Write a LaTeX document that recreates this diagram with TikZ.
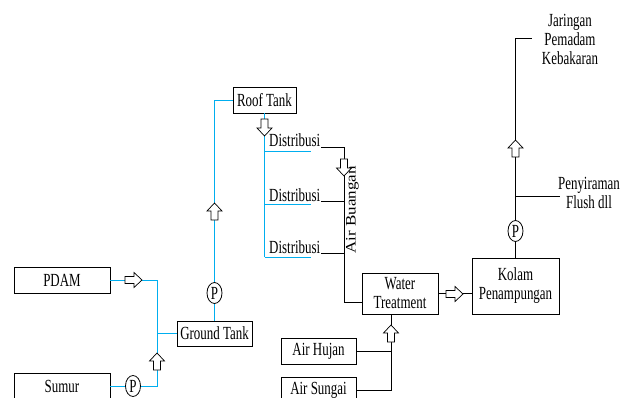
\documentclass[tikz,border=0pt]{standalone}
\usepackage{fontspec}
\setmainfont[FakeStretch=0.7]{Liberation Serif}
\newfontfamily\uprightserif{Liberation Serif}
\usepackage{graphicx}
\usetikzlibrary{shapes.geometric}
\definecolor{pipeblue}{RGB}{0,174,239}

\begin{document}
\begin{tikzpicture}[x=1pt, y=-1pt, font=\fontsize{18.5}{19}\selectfont,
    box/.style={draw, line width=0.8pt, inner sep=2pt, minimum height=26pt},
    pump/.style={draw, ellipse, line width=0.8pt, fill=white, inner sep=0pt,
      minimum width=15pt, minimum height=21pt},
    tag/.style={inner sep=1pt},
    pipe/.style={draw=pipeblue, line width=0.9pt},
    drain/.style={draw, line width=0.8pt},
    flowarrow/.pic={
      \draw[line width=0.7pt, fill=white] (-9,-3.5) -- (0,-3.5) -- (0,-7.5)
        -- (8,0) -- (0,7.5) -- (0,3.5) -- (-9,3.5) -- cycle;
    }]
  \useasboundingbox (0,0) rectangle (623,398);
  \clip (0,0) rectangle (623,398);

  % sources and tanks
  \node[box, minimum width=96pt] (pdam) at (62,280) {PDAM};
  \node[box, minimum width=96pt] (sumur) at (62,386) {Sumur};
  \node[box, minimum width=75pt, minimum height=25pt] (ground) at (214.5,333.5) {Ground Tank};
  \node[box, minimum width=63pt] (roof) at (264.5,100) {Roof Tank};
  \node[box, minimum width=76pt, minimum height=41pt, align=center] (treat) at (400,293.5) {Water\\Treatment};
  \node[box, minimum width=87pt, minimum height=56pt, align=center] (kolam) at (515.5,286) {Kolam\\Penampungan};
  \node[box, minimum width=75pt] (hujan) at (318.5,351) {Air Hujan};
  \node[box, minimum width=75pt] (sungai) at (318.5,390) {Air Sungai};

  % labels
  \foreach \i/\y in {1/147, 2/201, 3/253}
    \node[tag, anchor=base west] (dist\i) at (268,\y) {Distribusi};
  \node[tag, rotate=90] (buangan) at (352.5,210) {\fontsize{17}{19}\selectfont\scalebox{1}[0.85]{\uprightserif Air Buangan}};
  \node[tag, align=center] (jaringan) at (570,39) {Jaringan\\Pemadam\\Kebakaran};
  \node[tag, align=center] (siram) at (589,193) {Penyiraman\\Flush dll};

  % pumps
  \node[pump] (p1) at (133,386) {P};
  \node[pump] (p2) at (214.5,293) {P};
  \node[pump] (p3) at (515.5,231) {P};

  % junctions
  \coordinate (j1) at (157,280);
  \coordinate (j2) at (157,386);
  \coordinate (j3) at (157,333.5);
  \coordinate (dropend) at (264.5,257);
  \coordinate (drainbot) at (344,302);
  \coordinate (inlet) at (391,390);
  \coordinate (fireend) at (532,38);
  \coordinate (flushend) at (560,196);

  % clean water
  \draw[pipe] (pdam) -- (j1) -- (j2) -- (p1) -- (sumur);
  \draw[pipe] (j3) -- (ground);
  \draw[pipe] (ground) -- (p2) -- (ground |- roof.west) -- (roof.west);
  \draw[pipe] (roof.south) -- (dropend);
  \foreach \y in {151, 204, 257}
    \draw[pipe] (264.5,\y) -- (311,\y);

  % waste water
  \draw[drain] (dist1.base east) -| (drainbot) -- (drainbot -| treat.west);
  \foreach \i in {2,3}
    \draw[drain] (dist\i.base east) -- (dist\i.base east -| drainbot);
  \draw[drain] (treat.south -| inlet) -- (inlet) -- (sungai.east);
  \draw[drain] (hujan.east) -- (hujan.east -| inlet);
  \draw[drain] (treat.east) -- (treat.east -| kolam.west);
  \draw[drain] (kolam) -- (p3) -- (fireend -| kolam) -- (fireend);
  \draw[drain] (flushend -| kolam) -- (flushend);

  % flow arrows
  \pic at (134,280) {flowarrow};
  \pic[rotate=90] at (157,361) {flowarrow};
  \pic[rotate=90] at (214.5,211) {flowarrow};
  \pic[rotate=-90] at (264.5,128) {flowarrow};
  \pic[rotate=-90] at (344,168) {flowarrow};
  \pic[rotate=90] at (391,333) {flowarrow};
  \pic at (455,294) {flowarrow};
  \pic[rotate=90] at (515.5,148) {flowarrow};
\end{tikzpicture}
\end{document}
